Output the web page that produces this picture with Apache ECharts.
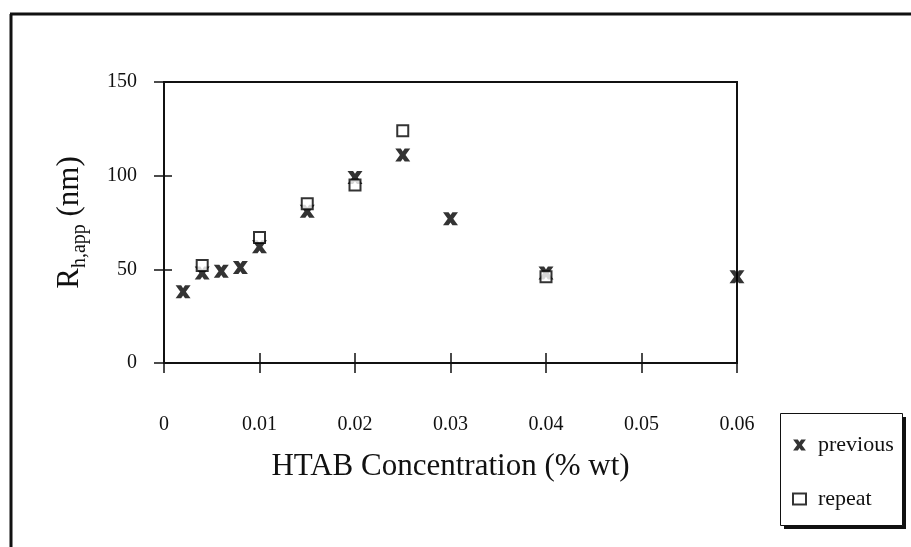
<!DOCTYPE html>
<html>
<head>
<meta charset="utf-8">
<script src="https://cdn.jsdelivr.net/npm/echarts@6/dist/echarts.min.js"></script>
<style>
html,body{margin:0;padding:0;background:#fff;}
#chart{width:911px;height:547px;}
</style>
</head>
<body>
<div id="chart"></div>
<script>
// ---- data ----
const previousX = [0.002, 0.004, 0.006, 0.008, 0.010, 0.015, 0.020, 0.025, 0.030, 0.040, 0.060];
const previousY = [38, 48, 49, 51, 62, 81, 99, 111, 77, 48, 46];
const repeatX = [0.004, 0.010, 0.015, 0.020, 0.025, 0.040];
const repeatY = [52, 67, 85, 95, 124, 46];
const xTicks = [0, 0.01, 0.02, 0.03, 0.04, 0.05, 0.06];
const yTicks = [0, 50, 100, 150];
const seriesNames = ['previous', 'repeat'];

const starPath = 'path://M0,0 L5.2,0 L7,2.6 L8.8,0 L14,0 L9.6,6 L14,12 L8.8,12 L7,9.4 L5.2,12 L0,12 L4.4,6 Z';
const serif = 'Liberation Serif, Times New Roman, serif';

const chart = echarts.init(document.getElementById('chart'));
const xMin = xTicks[0], xMax = xTicks[xTicks.length - 1];
const xStep = xTicks[1] - xTicks[0];
const yMin = yTicks[0], yMax = yTicks[yTicks.length - 1];
const yStep = yTicks[1] - yTicks[0];

function fmtX(v) { return v === 0 ? '0' : (+v.toFixed(2)).toString(); }

const baseX = {
  type: 'value', min: xMin, max: xMax, interval: xStep,
  splitLine: { show: false }
};
const baseY = {
  type: 'value', min: yMin, max: yMax, interval: yStep,
  splitLine: { show: false }
};

chart.setOption({
  backgroundColor: '#fff',
  animation: false,
  grid: {
    left: 164, top: 82, right: 174, bottom: 184,
    show: true, borderColor: '#111', borderWidth: 2, backgroundColor: 'transparent'
  },
  xAxis: [
    Object.assign({}, baseX, {
      position: 'bottom',
      axisLine: { show: true, lineStyle: { color: '#111', width: 2 } },
      axisTick: { show: true, inside: false, length: 10, lineStyle: { color: '#111', width: 1.5 } },
      axisLabel: { margin: 52, fontFamily: serif, fontSize: 20, color: '#111', formatter: fmtX },
      name: 'HTAB Concentration (% wt)',
      nameLocation: 'middle', nameGap: 88,
      nameTextStyle: { fontFamily: serif, fontSize: 31, color: '#111' }
    }),
    Object.assign({}, baseX, {
      position: 'bottom',
      axisLine: { show: false },
      axisTick: { show: true, inside: true, length: 10, lineStyle: { color: '#111', width: 1.5 } },
      axisLabel: { show: false }
    })
  ],
  yAxis: [
    Object.assign({}, baseY, {
      position: 'left',
      axisLine: { show: true, lineStyle: { color: '#111', width: 2 } },
      axisTick: { show: true, inside: false, length: 10, lineStyle: { color: '#111', width: 1.5 } },
      axisLabel: { margin: 27, fontFamily: serif, fontSize: 20, color: '#111' },
      name: '{r|R}{sub|h,app}{r| (nm)}',
      nameLocation: 'middle', nameGap: 74, nameRotate: 90,
      nameTextStyle: {
        fontFamily: serif, color: '#111',
        rich: {
          r: { fontFamily: serif, fontSize: 31, lineHeight: 40, color: '#111' },
          sub: { fontFamily: serif, fontSize: 20, lineHeight: 20, verticalAlign: 'bottom', color: '#111' }
        }
      }
    }),
    Object.assign({}, baseY, {
      position: 'left',
      axisLine: { show: false },
      axisTick: { show: true, inside: true, length: 8, lineStyle: { color: '#111', width: 1.5 } },
      axisLabel: { show: false }
    })
  ],
  legend: {
    orient: 'vertical',
    left: 780, top: 413,
    padding: [21, 10, 15, 12],
    itemGap: 32,
    itemWidth: 13, itemHeight: 11,
    backgroundColor: 'transparent',
    borderWidth: 0,
    textStyle: { fontFamily: serif, fontSize: 22, color: '#111', lineHeight: 22, padding: [0, 0, 0, 7] },
    data: [
      { name: seriesNames[0], icon: starPath },
      { name: seriesNames[1], icon: 'rect' }
    ],
    z: 10
  },
  graphic: [
    { type: 'line', shape: { x1: 11, y1: 14, x2: 11, y2: 547 }, style: { stroke: '#111', lineWidth: 3 }, z: 100 },
    { type: 'line', shape: { x1: 10, y1: 14, x2: 911, y2: 14 }, style: { stroke: '#111', lineWidth: 3 }, z: 100 },
    // legend frame with drop shadow
    { type: 'rect', shape: { x: 784, y: 417, width: 122, height: 112 }, style: { fill: '#111' }, z: 1 },
    { type: 'rect', shape: { x: 780.5, y: 413.5, width: 122, height: 112 }, style: { fill: '#fff', stroke: '#111', lineWidth: 1 }, z: 2 }
  ],
  series: [
    {
      name: seriesNames[0], type: 'scatter',
      symbol: starPath, symbolSize: [15, 13],
      itemStyle: { color: '#000' },
      data: previousX.map((x, i) => [x, previousY[i]]),
      z: 3
    },
    {
      name: seriesNames[1], type: 'scatter',
      symbol: 'rect', symbolSize: 11,
      itemStyle: { color: '#fff', borderColor: '#000', borderWidth: 2 },
      data: repeatX.map((x, i) => [x, repeatY[i]]),
      z: 4
    }
  ]
});
</script>
</body>
</html>
